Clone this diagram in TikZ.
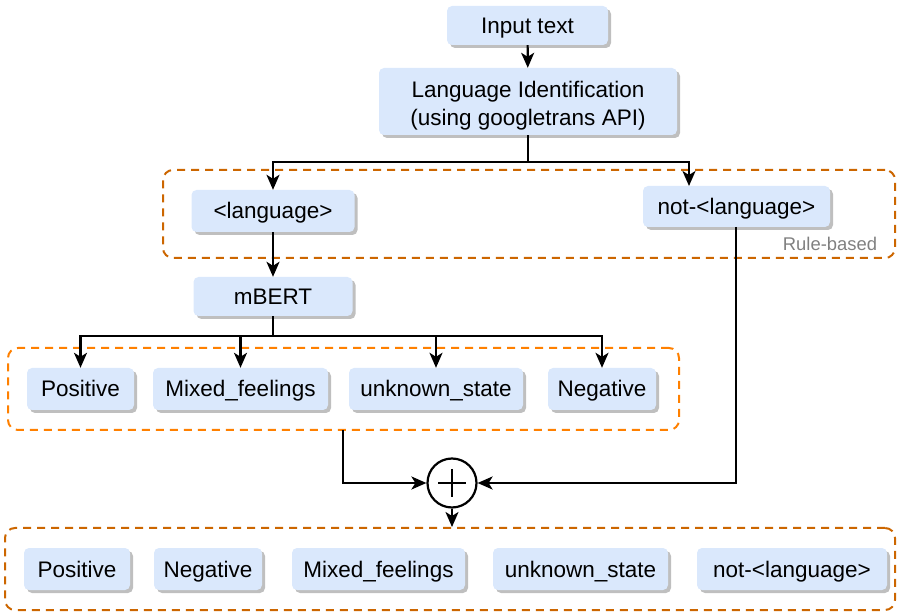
\documentclass[tikz,border=0pt]{standalone}
\usepackage{fontspec}
\setmainfont{Liberation Sans}
\usetikzlibrary{arrows.meta,shadows}
\definecolor{boxfill}{HTML}{DAE8FC}
\definecolor{dkorange}{HTML}{CC6600}
\definecolor{ltorange}{HTML}{FF8000}
\definecolor{shadowgray}{HTML}{BFBFBF}
\tikzset{
  blkbase/.style={fill=boxfill, rounded corners=5pt, inner sep=0pt, align=center,
    font=\fontsize{22.5}{29}\selectfont,
    drop shadow={shadow xshift=3pt, shadow yshift=-3pt, fill=shadowgray, opacity=1}},
  blk/.style={blkbase, text height=18pt, text depth=2pt},
  grp/.style={draw=#1, line width=2pt, dash pattern=on 8pt off 6pt, rounded corners=10pt, inner sep=0pt},
  arr/.style={line width=2.2pt, -{Stealth[length=15pt,width=13pt,inset=4pt]}},
  ln/.style={line width=2.2pt},
}
\begin{document}
\begin{tikzpicture}[x=1pt,y=-1pt]
\useasboundingbox (0,0) rectangle (898,612);
% group boxes
\node[grp=dkorange, minimum width=732pt, minimum height=88pt] (rb) at (529,214) {};
\node[grp=ltorange, minimum width=671pt, minimum height=82pt] (sb) at (343.5,389) {};
\node[grp=dkorange, minimum width=890pt, minimum height=82pt] (ob) at (450,569) {};
\node[text=gray, font=\fontsize{18.4}{22}\selectfont] (rbl) at (830,244) {Rule-based};
% top nodes
\node[blk, minimum width=161pt, minimum height=39pt] (in) at (527.5,25.5) {Input text};
\node[blkbase, minimum width=298pt, minimum height=67pt] (li) at (528,101.5) {\raisebox{-4.5pt}[\height][\depth]{\begin{tabular}{@{}c@{}}Language Identification\\[-1pt](using googletrans API)\end{tabular}}};
\node[blk, minimum width=163pt, minimum height=42pt] (lang) at (273,211) {<language>};
\node[blk, minimum width=187pt, minimum height=41pt] (nlang) at (736.5,206.5) {not-<language>};
\node[blk, minimum width=159pt, minimum height=39pt] (mb) at (273,296.5) {mBERT};
% sentiment nodes
\node[blk, minimum width=107pt, minimum height=42pt] (p1) at (80.5,389) {Positive};
\node[blk, minimum width=175pt, minimum height=42pt] (m1) at (240.5,389) {Mixed\_feelings};
\node[blk, minimum width=174pt, minimum height=42pt] (u1) at (436,389) {unknown\_state};
\node[blk, minimum width=108pt, minimum height=42pt] (n1) at (602,389) {Negative};
% output nodes
\node[blk, minimum width=106pt, minimum height=42pt] (p2) at (77,569) {Positive};
\node[blk, minimum width=108pt, minimum height=42pt] (n2) at (208,569) {Negative};
\node[blk, minimum width=173pt, minimum height=42pt] (m2) at (378.5,569) {Mixed\_feelings};
\node[blk, minimum width=175pt, minimum height=42pt] (u2) at (580.5,569) {unknown\_state};
\node[blk, minimum width=190pt, minimum height=42pt] (o2) at (792,569) {not-<language>};
% plus
\node[draw, circle, line width=2.2pt, minimum size=49pt, inner sep=0pt] (plus) at (452,483) {};
\draw[ln] (plus.center) ++(-14,0) -- ++(28,0);
\draw[ln] (plus.center) ++(0,-14) -- ++(0,28);
% coordinates
\coordinate (j1) at (528,162);
\coordinate (nin) at (689,186);
\coordinate (j2) at (273,336);
\coordinate (s1) at (343,430);
\coordinate (nout) at (736,227);
% connectors
\draw[arr] (in) -- (li);
\draw[ln] (li.south) -- (j1);
\draw[arr] (j1) -| (lang.north);
\draw[arr] (j1) -| (nin);
\draw[arr] (lang) -- (mb);
\draw[ln] (mb.south) -- (j2);
\draw[arr] (j2) -| (p1.north);
\draw[arr] (j2) -| (m1.north);
\draw[arr] (j2) -| (u1.north);
\draw[arr] (j2) -| (n1.north);
\draw[arr] (s1) |- (plus.west);
\draw[arr] (nout) |- (plus.east);
\draw[arr] (plus.south) -- (ob.north -| plus.south);
\end{tikzpicture}
\end{document}
